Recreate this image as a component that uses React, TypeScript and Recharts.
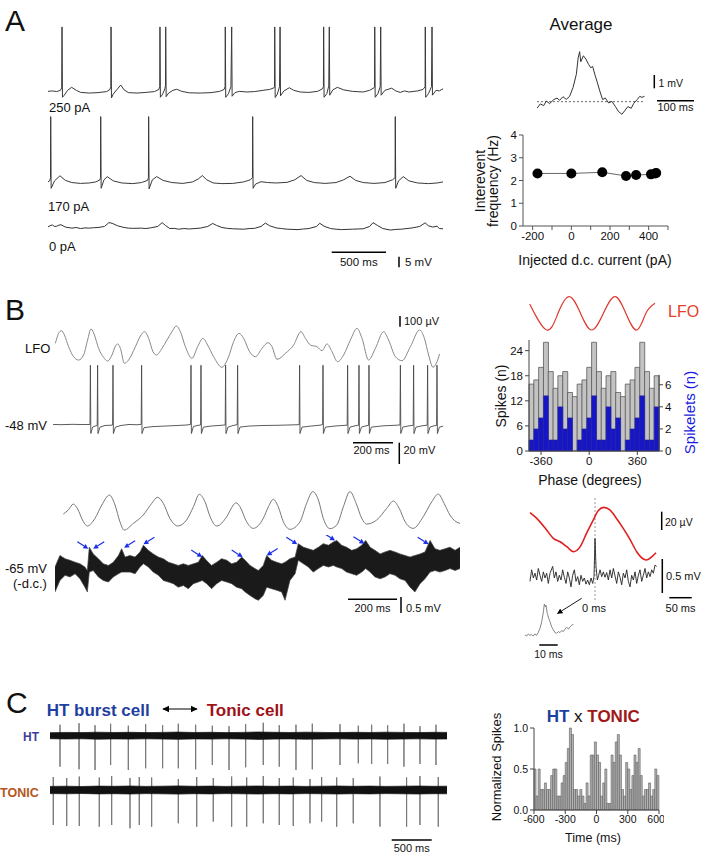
import React from "react";
import {
  LineChart, Line, AreaChart, Area, BarChart, Bar, ScatterChart, Scatter,
  XAxis, YAxis, ReferenceLine,
} from "recharts";

const FONT = "'Liberation Sans', Arial, Helvetica, sans-serif";
const NO_MARGIN = { top: 0, right: 0, bottom: 0, left: 0 };

type Pt = [number, number];

// ---------- A: whole-cell traces (t in ms, v in mV from baseline)
const trace250pA: Pt[] = [
  [0, 0.3], [40, 0.5], [80, 0.2], [115, 0.8], [126, 2], [129, 30.7], [133, -2.5], [150, -1.5], [180, 0.8], [218, 2.2],
  [260, 0.8], [300, -0.2], [380, -0.5], [460, -0.3], [540, 0.2], [570, 1.2], [578, 2.5], [580, 30.7], [584, -2.8], [600, -1],
  [640, 1.5], [669, 3.3], [700, 1], [740, -0.3], [820, -0.5], [900, -0.2], [980, 0.2], [1020, 1.2], [1028, 2.5], [1030, 30.7],
  [1034, -2.5], [1055, -1], [1075, 1.5], [1081, 3], [1083, 30.7], [1087, -2.2], [1110, -0.5], [1150, 0.8], [1184, 1.3], [1230, 0.3],
  [1300, -0.4], [1400, -0.5], [1500, -0.3], [1580, 0.3], [1620, 1.2], [1629, 2.5], [1631, 30.7], [1635, -2.5], [1660, -0.8], [1683, 2.5],
  [1690, 30.7], [1694, -2], [1720, -0.3], [1760, 0.3], [1830, 0], [1900, 0.2], [1980, 0.8], [2040, 1.2], [2080, 2], [2084, 2.5],
  [2086, 30.7], [2090, -2.6], [2110, -1], [2130, 2.5], [2135, 30.7], [2139, -1.8], [2170, 0.5], [2220, 2], [2260, 0.8], [2320, 0],
  [2400, -0.2], [2480, 0.3], [2525, 1.5], [2534, 2.5], [2536, 30.7], [2540, -2.5], [2565, -0.8], [2583, 2.8], [2588, 30.7], [2592, -1.5],
  [2620, 1], [2662, 2.2], [2720, 1], [2800, 0.3], [2900, 0], [2960, 0.8], [3000, 2], [3004, 2.5], [3006, 30.7], [3010, -2.5],
  [3035, -0.8], [3056, 2.5], [3061, 30.7], [3065, -1.5], [3100, 0.8], [3162, 1.8], [3200, 0.5], [3240, -0.2], [3280, 0.5], [3320, 0],
  [3400, 0.5], [3450, 1.2], [3469, 2.5], [3471, 30.7], [3475, -2.5], [3500, -0.8], [3528, 2.5], [3533, 30.7], [3537, -1.5], [3570, 0.8],
  [3600, 0.5], [3634, 1.5],
];

const trace170pA: Pt[] = [
  [0, 0.5], [15, 1], [23, 2.5], [25, 31.3], [29, -2.5], [60, 1], [110, 3.4], [160, 1.2], [220, 0.2], [300, -0.2],
  [380, 0], [440, 0.5], [478, 1.5], [483, 2.5], [485, 31.3], [489, -2.5], [515, 1.5], [545, 3], [600, 1], [680, 0],
  [780, -0.3], [860, 0.2], [915, 1.2], [924, 2.5], [926, 31.3], [930, -2.8], [960, 1.5], [1000, 3], [1060, 1.2], [1140, 0.2],
  [1240, -0.2], [1330, 0.5], [1385, 2], [1420, 3.5], [1460, 1.5], [1520, 0], [1600, -0.3], [1700, -0.2], [1800, 0.5], [1860, 1.5],
  [1881, 2.5], [1883, 31.3], [1887, -2.5], [1910, -0.5], [1960, 0.6], [2020, 0.2], [2100, 0], [2200, 0.3], [2270, 1.5], [2328, 3.5],
  [2380, 1.2], [2450, 0.2], [2550, -0.2], [2650, 0.2], [2720, 1.5], [2778, 3.2], [2830, 1.2], [2900, 0.2], [3000, -0.2], [3100, 0.2],
  [3170, 1.5], [3193, 2.5], [3195, 31.3], [3199, -2.5], [3225, 1], [3269, 3], [3320, 1], [3400, 0], [3500, -0.3], [3580, 0],
  [3634, 0.5],
];

const trace0pA: Pt[] = [
  [0, 0.3], [20, 0.9], [40, 1.2], [60, 0.5], [80, 0.6], [100, 1.1], [120, 1.3], [160, 0.2], [220, -0.3], [260, 0],
  [300, -0.5], [340, -0.2], [380, -0.3], [420, -0.1], [460, 0], [520, 0.5], [560, 2.3], [590, 2.0], [640, 0.8], [700, 0],
  [740, -0.3], [780, -0.4], [860, -0.3], [900, -0.5], [940, -0.2], [1010, 0.5], [1050, 2.3], [1080, 1], [1120, -0.5], [1160, -0.4],
  [1200, -0.8], [1250, -0.5], [1300, -0.7], [1400, -0.3], [1470, 0.5], [1515, 1.9], [1550, 1], [1600, 0], [1650, -0.4], [1700, -0.6],
  [1800, -0.8], [1850, -0.5], [1900, -0.4], [1960, 0.5], [2000, 2.1], [2040, 0.8], [2100, -0.2], [2150, -0.5], [2200, -0.8], [2300, -1],
  [2350, -0.7], [2400, -0.5], [2470, 0.5], [2500, 2.0], [2540, 0.6], [2600, -0.5], [2650, -0.8], [2700, -1], [2800, -0.8], [2900, -0.6],
  [2960, 0.5], [2990, 2.3], [3030, 1], [3080, -0.5], [3150, -1.2], [3200, -0.9], [3250, -0.8], [3350, -0.2], [3420, 0.5], [3470, 2.2],
  [3500, 0.8], [3540, 0.2], [3580, 0.6], [3600, -0.5], [3634, -0.6],
];

const averageTrace: Pt[] = [
  [0, -0.5], [9, -0.17], [18, -0.3], [25, 0.05], [34, -0.15], [45, 0.15], [54, 0.27], [61, 0.1], [70, 0.37], [79, 0.17],
  [88, 0.4], [97, 1.05], [106, 2.05], [111, 3.3], [115, 3.76], [118, 3.0], [125, 3.45], [132, 3.2], [139, 2.8], [145, 2.55],
  [150, 2.65], [157, 1.95], [163, 1.4], [171, 0.65], [177, 0.15], [184, 0.28], [193, -0.1], [202, 0.02], [211, -0.35], [220, -0.75],
  [229, -0.95], [238, -0.63], [245, -0.37], [254, -0.5], [261, -0.12], [270, 0.15], [277, 0.4], [283, 0.32], [290, 0.4],
];

// interevent frequency vs injected current
const injectedCurrent = [-175, 0, 160, 283, 335, 412, 434, 439];
const intereventFreq = [2.31, 2.31, 2.36, 2.2, 2.24, 2.27, 2.31, 2.33];

// ---------- B: LFO and intracellular traces
const lfoTop: Pt[] = [
  [12, 156], [28, 249], [42, 274], [57, 234], [78, 124], [103, 31], [128, 0], [153, 47], [173, 187], [190, 290],
  [207, 234], [228, 109], [253, 25], [273, -9], [295, 47], [312, 131], [323, 150], [337, 109], [357, -31], [378, 0],
  [412, 124], [437, 224], [458, 265], [478, 203], [500, 78], [517, 47], [545, 109], [570, 187], [595, 265], [617, 318],
  [637, 265], [662, 124], [695, 16], [723, 124], [750, 203], [773, 140], [803, 31], [845, -68], [878, 31], [903, 171],
  [930, 249], [953, 203], [983, 78], [1012, 31], [1045, 109], [1075, 162], [1095, 124], [1120, 6], [1162, 62], [1203, 140],
  [1240, 265], [1262, 203], [1287, 140], [1320, 124], [1345, 87], [1370, 150], [1395, 78], [1423, -16], [1453, 47], [1487, 187],
  [1520, 296], [1545, 203], [1578, 0], [1612, 109], [1653, 265], [1678, 187], [1712, 31], [1745, -6], [1787, 124], [1833, 280],
  [1857, 203], [1878, 47], [1900, -68], [1920, -16], [1933, 56],
];

const traceMinus48: Pt[] = [
  [0, 0.5], [40, 0.3], [100, 0.6], [150, 0.4], [185, 0.5], [187, 56], [189, -8], [198, -2], [210, -1], [221, -0.5],
  [223, 56], [225, -8], [235, -2], [260, -0.5], [290, -0.2], [298, 0], [300, 56], [302, -8], [312, -2], [340, -0.5],
  [380, 0.5], [420, 0.2], [441, 0.6], [443, 56], [445, -8], [455, -2.5], [500, -1.5], [560, -1], [620, -0.5], [670, 0],
  [688, 0.5], [690, 56], [692, -8], [702, -1.5], [720, -0.5], [738, 0], [740, 56], [742, -8], [752, -2], [790, -1],
  [840, -0.3], [861, 0], [863, 56], [865, -8], [875, -2], [900, -0.5], [921, 0.3], [923, 56], [925, -8], [935, -2],
  [980, -1], [1050, -0.5], [1120, -0.3], [1180, 0], [1231, 0.3], [1233, 56], [1235, -8], [1245, -2], [1290, -1], [1330, -0.3],
  [1348, 0.3], [1350, 56], [1352, -8], [1362, -2], [1420, -0.8], [1471, -0.2], [1473, 56], [1475, -8], [1485, -2], [1510, -0.8],
  [1528, -0.2], [1530, 56], [1532, -8], [1542, -2], [1565, -0.8], [1578, -0.3], [1580, 56], [1582, -8], [1592, -2], [1650, -0.8],
  [1710, -0.3], [1735, 0], [1737, 56], [1739, -8], [1749, -2], [1780, -0.8], [1801, -0.3], [1803, 56], [1805, -8], [1815, -2],
  [1850, -0.6], [1871, -0.2], [1873, 56], [1875, -8], [1885, -2], [1905, -0.8], [1918, -0.3], [1920, 56], [1922, -8], [1932, -2],
  [1953, -1],
];

const lfoLow: Pt[] = [
  [34, 131], [54, 168], [75, 224], [91, 184], [116, 59], [132, 19], [163, 90], [191, 215], [222, 308], [245, 215],
  [265, 59], [282, -19], [320, 44], [360, 121], [395, 231], [418, 287], [442, 231], [469, 90], [501, 19], [537, 75],
  [565, 199], [589, 315], [612, 246], [633, 106], [660, 19], [701, 106], [728, 215], [739, 236], [755, 199], [782, 59],
  [809, -3], [850, 90], [871, 199], [891, 268], [911, 199], [932, 59], [959, -12], [1000, 59], [1027, 231], [1052, 340],
  [1075, 262], [1095, 90], [1122, -6], [1150, 28], [1177, 199], [1204, 340], [1229, 231], [1252, 90], [1272, 37], [1313, 75],
  [1354, 184], [1381, 252], [1405, 184], [1429, 59], [1462, -3], [1503, 106], [1538, 246], [1564, 318], [1588, 231], [1612, 121],
  [1637, 59], [1653, 44],
];

// -65 mV (d.c.) trace: min / max envelope of the noisy record, mV
const noisyTimes = [
  0, 20, 41, 61, 82, 102, 122, 132, 140, 156, 177, 197, 218, 238, 259, 272, 286, 306, 327, 347,
  361, 381, 401, 422, 442, 463, 483, 503, 524, 544, 565, 585, 601, 619, 639, 660, 680, 701, 721, 741,
  762, 776, 796, 816, 830, 850, 864, 884, 905, 925, 939, 959, 980, 993, 1014, 1034, 1054, 1075, 1095, 1116,
  1136, 1150, 1170, 1190, 1211, 1231, 1252, 1268, 1286, 1306, 1327, 1347, 1367, 1388, 1408, 1429, 1449, 1469, 1490, 1510,
  1531, 1551, 1571, 1592, 1612, 1633, 1653,
];
const noisyLow = [
  -0.58, -0.22, -0.06, -0.11, -0.01, -0.17, -0.43, -0.58, 0.04, 0.09, -0.11, -0.22, -0.27, -0.11, -0.01, 0.04, 0.04, 0.04, -0.01, 0.2,
  0.3, 0.2, 0.04, -0.06, -0.22, -0.27, -0.32, -0.43, -0.38, -0.48, -0.32, -0.27, -0.22, -0.32, -0.48, -0.32, -0.22, -0.27, -0.32, -0.43,
  -0.48, -0.58, -0.69, -0.79, -0.84, -0.69, -0.43, -0.48, -0.53, -0.58, -0.84, -0.22, -0.01, 0.41, 0.3, 0.2, 0.04, 0.15, 0.25, 0.2,
  0.25, 0.2, 0.15, 0.04, -0.01, -0.06, 0.04, 0.15, 0.04, -0.11, -0.17, -0.11, -0.01, -0.06, -0.17, -0.22, -0.43, -0.58, -0.32, -0.17,
  0.04, 0.09, 0.04, 0.09, 0.15, 0.09, 0.15,
];
const noisyHigh = [
  0.2, 0.56, 0.46, 0.41, 0.35, 0.3, 0.2, 0.09, 0.82, 0.61, 0.46, 0.3, 0.25, 0.35, 0.56, 0.77, 0.51, 0.56, 0.51, 0.67,
  0.88, 0.72, 0.61, 0.51, 0.46, 0.35, 0.3, 0.25, 0.3, 0.25, 0.3, 0.35, 0.56, 0.4, 0.25, 0.35, 0.46, 0.41, 0.3, 0.35,
  0.51, 0.41, 0.25, 0.15, 0.09, 0.25, 0.56, 0.41, 0.35, 0.3, 0.35, 0.46, 0.51, 0.93, 0.82, 0.77, 0.72, 0.82, 0.93, 0.88,
  0.98, 1.03, 0.88, 0.82, 0.72, 0.77, 0.88, 1.03, 0.82, 0.72, 0.61, 0.67, 0.72, 0.67, 0.61, 0.56, 0.51, 0.56, 0.61, 0.67,
  1.03, 0.77, 0.72, 0.77, 0.82, 0.72, 0.82,
];

// spikelets marked by arrows: time (ms), peak (mV), side the arrow comes from
const spikeletTimes = [136, 156, 282, 361, 601, 766, 864, 989, 1143, 1263, 1525];
const spikeletPeaks = [0.77, 0.77, 0.8, 0.91, 0.51, 0.51, 0.56, 0.91, 1.03, 0.93, 0.91];
const spikeletSide = ["left", "right", "right", "right", "left", "left", "right", "left", "left", "left", "left"];

// phase histogram (double plotted), bins of 36 degrees
const phaseBins = [
  -432, -396, -360, -324, -288, -252, -216, -180, -144, -108, -72, -36, 0, 36, 72, 108, 144, 180,
  216, 252, 288, 324, 360, 396, 432, 468, 504,
];
const spikesPerBin = [16, 17, 20, 26, 19, 15, 18, 19, 14, 13, 16, 17, 20, 26, 19, 15, 18, 19, 14, 13, 16, 17, 20, 26, 19, 15, 18];
const spikeletsPerBin = [1, 2, 3, 5, 1, 1, 4, 2, 3, 0, 1, 2, 3, 5, 1, 1, 4, 2, 3, 0, 1, 2, 3, 5, 1, 1, 4];

// idealised LFO cycle above the histogram (degrees, normalised amplitude)
const lfoCycle: Pt[] = [
  [-445, 0.56], [-318, -1], [-233, 0], [-149, 1], [-65, 0], [19, -1], [106, 0], [193, 1], [274, 0], [356, -1], [424, 0], [492, 0.6],
];

// spike-triggered averages (t in ms from spikelet)
const lfoTriggered: Pt[] = [
  [-145, 35.3], [-130, 29.1], [-108, 16.4], [-93, 7.3], [-78, 3.6], [-63, -1.8], [-48, -7.3], [-33, -1.8], [-19, 12.8], [-4, 27.3],
  [7, 37.5], [20, 41.2], [33, 38.3], [48, 29.1], [63, 18.2], [78, 6.2], [93, -7.3], [108, -15.3], [115, -16.4], [127, -12.8], [136, -8.4],
];
const vmTriggered: Pt[] = [
  [-145.1, -0.05], [-141.4, 0.12], [-137.6, 0], [-133.9, 0.07], [-130.2, -0.03], [-126.5, 0.14], [-122.8, 0.04], [-119, -0.05],
  [-115.3, 0.09], [-111.6, 0], [-107.9, 0.07], [-104.2, -0.08], [-100.4, 0.07], [-94.5, 0.17], [-90.8, 0], [-87.1, 0.09],
  [-83.3, -0.05], [-79.6, 0.04], [-75.9, -0.03], [-72.2, 0.12], [-68.5, 0.01], [-64.7, -0.08], [-61, 0.09], [-57.3, 0],
  [-53.6, -0.13], [-49.9, 0.04], [-46.1, 0.12], [-42.4, -0.05], [-38.7, 0.02], [-35, -0.1], [-31.3, 0.04], [-27.5, -0.05],
  [-23.8, 0], [-20.1, -0.09], [-16.4, -0.03], [-12.6, -0.1], [-8.9, 0], [-5.2, -0.08], [-2.2, 0.02], [0, 0.58],
  [2.2, 0.17], [5.2, -0.03], [8.2, 0.04], [11.2, 0.12], [14.9, 0.02], [18.6, 0.09], [22.3, 0.01], [26, 0.08],
  [29.8, -0.03], [33.5, 0.12], [37.2, 0], [40.9, 0.14], [44.6, 0.03], [48.4, -0.08], [52.1, 0.09], [55.8, 0.01],
  [59.5, -0.1], [63.2, 0.07], [67, 0], [70.7, 0.12], [74.4, -0.05], [78.1, -0.13], [81.8, 0.04], [85.6, -0.03],
  [89.3, 0.09], [93, -0.08], [96.7, 0.04], [100.4, 0.12], [104.2, -0.05], [107.9, 0.04], [111.6, 0.14], [115.3, 0],
  [119, 0.09], [122.8, 0.02], [126.5, 0.12], [130.2, 0.07], [133.9, 0.19], [137.6, 0.17],
];
const spikeletZoom: Pt[] = [
  [0, 0], [0.9, -0.015], [1.8, 0.015], [2.7, -0.005], [3.6, 0.005], [4.5, -0.015], [5.4, 0.015], [6.3, -0.005],
  [7.2, 0.035], [8.2, 0.1], [9.1, 0.195], [10, 0.34], [10.5, 0.455], [11.1, 0.415], [11.4, 0.44], [12.1, 0.32],
  [12.9, 0.245], [13.6, 0.195], [14.5, 0.12], [15.4, 0.075], [16.3, 0.035], [17.2, 0.025], [18.1, 0.05], [19, 0.035],
  [19.9, 0.065], [20.8, 0.05], [21.7, 0.085], [22.6, 0.115], [23.6, 0.085], [24.5, 0.12], [25.4, 0.145], [26.3, 0.155],
];

// ---------- C: extracellular units (t in ms, v in µV)
const htSpikeTimes = [125, 363, 563, 758, 979, 1196, 1408, 1604, 1821, 2029, 2238, 2446, 2666, 2866, 3075, 3279, 3625, 3854, 4021, 4221, 4425, 4625, 4825];
const htSpikeUp = [110, 125, 105, 120, 100, 115, 105, 120, 110, 100, 95, 115, 130, 105, 110, 120, 115, 100, 110, 105, 120, 95, 110];
const htSpikeDown = [-310, -336, -343, -293, -343, -326, -326, -326, -336, -293, -343, -316, -293, -310, -343, -336, -293, -276, -283, -283, -310, -283, -293];
const htNoise: Pt[] = [
  [0, 30], [200, 33], [400, 31], [600, 35], [800, 32], [1000, 34], [1200, 31], [1400, 33], [1600, 36], [1800, 32],
  [2000, 34], [2200, 31], [2400, 33], [2600, 37], [2800, 34], [3000, 32], [3200, 35], [3400, 33], [3600, 31], [3800, 34],
  [4000, 32], [4200, 35], [4400, 33], [4600, 31], [4800, 34], [4963, 33],
];
const tonicSpikeTimes = [41, 209, 366, 616, 771, 1000, 1116, 1271, 1604, 1834, 2041, 2271, 2459, 2666, 2866, 3041, 3250, 3396, 3584, 3791, 4125, 4458, 4625, 4854];
const tonicSpikeUp = [130, 120, 135, 125, 140, 120, 130, 125, 110, 130, 120, 135, 125, 140, 120, 125, 110, 130, 125, 120, 135, 125, 140, 130];
const tonicSpikeDown = [-350, -360, -360, -367, -350, -383, -350, -367, -333, -367, -317, -367, -367, -333, -350, -360, -333, -317, -367, -333, -367, -367, -350, -367];
const tonicNoise: Pt[] = [
  [0, 36], [200, 38], [400, 35], [600, 39], [800, 37], [1000, 40], [1200, 36], [1400, 38], [1600, 41], [1800, 37],
  [2000, 39], [2200, 36], [2400, 38], [2600, 40], [2800, 37], [3000, 39], [3200, 36], [3400, 38], [3600, 40], [3800, 37],
  [4000, 39], [4200, 36], [4400, 38], [4600, 40], [4800, 37], [4963, 38],
];

// HT x TONIC cross-correlogram, 20 ms bins
const ccgLags = [
  -590, -570, -550, -530, -510, -490, -470, -450, -430, -410, -390, -370, -350, -330, -310, -290, -270, -250, -230, -210,
  -190, -170, -150, -130, -110, -90, -70, -50, -30, -10, 10, 30, 50, 70, 90, 110, 130, 150, 170, 190,
  210, 230, 250, 270, 290, 310, 330, 350, 370, 390, 410, 430, 450, 470, 490, 510, 530, 550, 570, 590,
];
const ccgValues = [
  0.5, 0.17, 0.5, 0.25, 0.25, 0.33, 0.25, 0.25, 0.42, 0.5,
  0.5, 0.17, 0.17, 0.33, 0.42, 0.58, 0.75, 1.0, 0.92, 0.25,
  0.25, 0.17, 0.25, 0.17, 0.08, 0.33, 0.17, 0.67, 0.67, 0.83,
  0.67, 0.58, 0.17, 0.33, 0.5, 0.08, 0.08, 0.67, 0.58, 0.83,
  0.92, 0.67, 0.25, 0.17, 0.58, 0.5, 0.25, 0.42, 0.67, 0.58,
  0.75, 0.42, 0.17, 0.25, 0.25, 0.33, 0.17, 0.25, 0.5, 0.42,
];

const tickStyle = { fontSize: 11, fill: "#111", fontFamily: FONT };

type Box = [number, number, number, number];

function Trace({ pts, box, xDomain, yDomain, color = "#222", width = 1, curve = "linear", children }: any) {
  const rows = pts.map(([t, v]: Pt) => ({ t, v }));
  return (
    <div style={{ position: "absolute", left: box[0], top: box[1] }}>
      <LineChart width={box[2]} height={box[3]} data={rows} margin={NO_MARGIN}>
        <XAxis dataKey="t" type="number" domain={xDomain} hide allowDataOverflow />
        <YAxis type="number" domain={yDomain} hide allowDataOverflow />
        {children}
        <Line dataKey="v" type={curve} stroke={color} strokeWidth={width} dot={false} activeDot={false} isAnimationActive={false} />
      </LineChart>
    </div>
  );
}

function Band({ rows, box, xDomain, yDomain, color = "#111", edge = "#111" }: any) {
  return (
    <div style={{ position: "absolute", left: box[0], top: box[1] }}>
      <AreaChart width={box[2]} height={box[3]} data={rows} margin={NO_MARGIN}>
        <XAxis dataKey="t" type="number" domain={xDomain} hide allowDataOverflow />
        <YAxis type="number" domain={yDomain} hide allowDataOverflow />
        <Area dataKey="band" type="linear" stroke={edge} strokeWidth={0.7} fill={color} fillOpacity={1} dot={false} activeDot={false} isAnimationActive={false} />
      </AreaChart>
    </div>
  );
}

function spikeRows(times: number[], up: number[], down: number[]): Pt[] {
  return times.flatMap((t, i) => [[t, 0], [t, up[i]], [t, down[i]], [t, 0]] as Pt[]);
}

function SpikeletArrow(props: any) {
  const { cx, cy, payload } = props;
  const s = payload.side === "left" ? -1 : 1;
  const tx = cx + s * 11;
  const ty = cy - 7;
  const len = Math.hypot(cx - tx, cy - ty);
  const ux = (cx - tx) / len;
  const uy = (cy - ty) / len;
  const bx = cx - ux * 5;
  const by = cy - uy * 5;
  const px = -uy * 2.6;
  const py = ux * 2.6;
  return (
    <g>
      <line x1={tx} y1={ty} x2={bx} y2={by} stroke="#1a2ee8" strokeWidth={1.2} />
      <polygon points={`${cx},${cy} ${bx + px},${by + py} ${bx - px},${by - py}`} fill="#1a2ee8" />
    </g>
  );
}

function Txt({ x, y, size = 12, anchor = "start", color = "#111", weight = "normal", rotate = false, children }: any) {
  if (rotate) {
    return (
      <text transform={`translate(${x},${y}) rotate(-90)`} fontSize={size} textAnchor="middle" fill={color} fontWeight={weight}>
        {children}
      </text>
    );
  }
  return (
    <text x={x} y={y} fontSize={size} textAnchor={anchor} fill={color} fontWeight={weight}>
      {children}
    </text>
  );
}

function ScaleLine({ x1, y1, x2, y2 }: any) {
  return <line x1={x1} y1={y1} x2={x2} y2={y2} stroke="#000" strokeWidth={1.5} />;
}

export default function App() {
  const ivRows = injectedCurrent.map((c, i) => ({ current: c, freq: intereventFreq[i] }));
  const phaseRows = phaseBins.map((p, i) => ({ phase: p, spikes: spikesPerBin[i], spikelets: spikeletsPerBin[i] }));
  const ccgRows = ccgLags.map((l, i) => ({ lag: l, norm: ccgValues[i] }));
  const noisyRows = noisyTimes.map((t, i) => ({ t, band: [noisyLow[i], noisyHigh[i]] }));
  const arrowRows = spikeletTimes.map((t, i) => ({ t, v: spikeletPeaks[i], side: spikeletSide[i] }));
  const htBand = htNoise.map(([t, h]) => ({ t, band: [-h, h] }));
  const tonicBand = tonicNoise.map(([t, h]) => ({ t, band: [-h, h] }));

  const noisyBox: Box = [55, 534.6, 405, 76.8];

  return (
    <div style={{ position: "absolute", left: 0, top: 0, width: 702, height: 853, background: "#fff", overflow: "hidden", fontFamily: FONT }}>
      {/* ---------- A ---------- */}
      <Trace pts={trace250pA} box={[48, 20, 395, 82]} xDomain={[0, 3634]} yDomain={[-4.72, 33.96]} color="#3a3a3a" />
      <Trace pts={trace170pA} box={[48, 110, 395, 82]} xDomain={[0, 3634]} yDomain={[-4.25, 34.4]} color="#3a3a3a" />
      <Trace pts={trace0pA} box={[48, 215, 395, 20]} xDomain={[0, 3634]} yDomain={[-3.54, 5.9]} color="#333" />
      <Trace pts={averageTrace} box={[536.7, 45, 108.3, 73]} xDomain={[0, 292]} yDomain={[-1.23, 4.26]} color="#333">
        <ReferenceLine y={0} stroke="#444" strokeWidth={0.8} strokeDasharray="2 2" />
      </Trace>

      <div style={{ position: "absolute", left: 460, top: 125 }}>
        <LineChart width={218} height={131} data={ivRows} margin={{ top: 10, right: 10, bottom: 0, left: 0 }}>
          <XAxis
            dataKey="current" type="number" domain={[-250, 500]} ticks={[-200, -100, 0, 100, 200, 300, 400, 500]}
            tickFormatter={(v: number) => (v % 200 === 0 ? String(v) : "")} height={30} tick={{ ...tickStyle, fontSize: 11.5 }}
            stroke="#555" tickSize={4} allowDataOverflow
          />
          <YAxis type="number" domain={[0, 4]} ticks={[0, 1, 2, 3, 4]} width={63} tick={{ ...tickStyle, fontSize: 11.5 }} stroke="#555" tickSize={4} />
          <Line dataKey="freq" stroke="#666" strokeWidth={1} dot={{ r: 5, fill: "#000", stroke: "#000", strokeWidth: 0 }} activeDot={false} isAnimationActive={false} />
        </LineChart>
      </div>

      {/* ---------- B ---------- */}
      <Trace pts={lfoTop} box={[52.7, 320, 390.6, 52]} xDomain={[0, 1953]} yDomain={[-112, 374]} color="#888" curve="monotone" />
      <Trace pts={traceMinus48} box={[52.7, 360, 390.6, 78]} xDomain={[0, 1953]} yDomain={[-12.2, 60.9]} color="#4a4a4a" width={0.9} />
      <Trace pts={lfoLow} box={[55, 485, 405, 50]} xDomain={[0, 1653]} yDomain={[-65, 402]} color="#777" curve="monotone" />
      <Band rows={noisyRows} box={noisyBox} xDomain={[0, 1653]} yDomain={[-1.2, 1.2]} color="#1a1a1a" edge="#444" />
      <div style={{ position: "absolute", left: noisyBox[0], top: noisyBox[1] }}>
        <ScatterChart width={noisyBox[2]} height={noisyBox[3]} margin={NO_MARGIN}>
          <XAxis dataKey="t" type="number" domain={[0, 1653]} hide allowDataOverflow />
          <YAxis dataKey="v" type="number" domain={[-1.2, 1.2]} hide allowDataOverflow />
          <Scatter data={arrowRows} shape={SpikeletArrow} isAnimationActive={false} />
        </ScatterChart>
      </div>

      <Trace pts={lfoCycle} box={[529, 293, 130, 41]} xDomain={[-450, 522]} yDomain={[-1.24, 1.22]} color="#e03a30" width={1.2} curve="natural" />
      <div style={{ position: "absolute", left: 480, top: 330 }}>
        <BarChart width={219} height={146} data={phaseRows} margin={{ top: 10, right: 0, bottom: 0, left: 0 }} barCategoryGap={0} barGap={0}>
          <XAxis xAxisId="a" dataKey="phase" type="number" domain={[-450, 522]} ticks={[-360, 0, 360]} height={25} tick={{ ...tickStyle, fontSize: 11.5 }} stroke="#444" tickSize={4} />
          <XAxis xAxisId="b" dataKey="phase" type="number" domain={[-450, 522]} hide />
          <YAxis yAxisId="s" type="number" domain={[0, 26.55]} ticks={[0, 6, 12, 18, 24]} width={49} tick={{ ...tickStyle, fontSize: 11.5 }} stroke="#444" tickSize={4} />
          <YAxis yAxisId="k" orientation="right" type="number" domain={[0, 10.05]} ticks={[0, 2, 4, 6]} width={40} tick={{ ...tickStyle, fontSize: 11.5 }} stroke="#444" tickSize={4} axisLine={false} />
          <Bar xAxisId="a" yAxisId="s" dataKey="spikes" fill="#c3c3c3" stroke="#5a5a5a" strokeWidth={0.8} isAnimationActive={false} />
          <Bar xAxisId="b" yAxisId="k" dataKey="spikelets" fill="#1616c6" stroke="#2c2c94" strokeWidth={0.5} isAnimationActive={false} />
          <ReferenceLine xAxisId="a" yAxisId="k" segment={[{ x: 522, y: 0 }, { x: 522, y: 6.9 }]} stroke="#444" />
        </BarChart>
      </div>

      <Trace pts={lfoTriggered} box={[526, 497, 134, 103]} xDomain={[-154, 145]} yDomain={[-60.1, 52.5]} color="#e02020" width={1.6} curve="monotone">
        <ReferenceLine x={0} stroke="#999" strokeWidth={1} strokeDasharray="2 2" />
      </Trace>
      <Trace pts={vmTriggered} box={[526, 535, 134, 77]} xDomain={[-154, 145]} yDomain={[-0.5, 0.632]} color="#222" width={0.9} />
      <Trace pts={spikeletZoom} box={[522, 598, 54, 42]} xDomain={[-1.6, 27.7]} yDomain={[-0.074, 0.544]} color="#777" width={0.9} />

      {/* ---------- C ---------- */}
      <Trace pts={spikeRows(htSpikeTimes, htSpikeUp, htSpikeDown)} box={[50, 718, 397, 54]} xDomain={[0, 4963]} yDomain={[-363, 177]} color="#777" width={1} />
      <Band rows={htBand} box={[50, 718, 397, 54]} xDomain={[0, 4963]} yDomain={[-363, 177]} />
      <Trace pts={spikeRows(tonicSpikeTimes, tonicSpikeUp, tonicSpikeDown)} box={[50, 772, 397, 60]} xDomain={[0, 4963]} yDomain={[-420, 180]} color="#777" width={1} />
      <Band rows={tonicBand} box={[50, 772, 397, 60]} xDomain={[0, 4963]} yDomain={[-420, 180]} />

      <div style={{ position: "absolute", left: 480, top: 718 }}>
        <BarChart width={184} height={117} data={ccgRows} margin={{ top: 10, right: 5, bottom: 0, left: 0 }} barCategoryGap={0}>
          <XAxis dataKey="lag" type="number" domain={[-600, 600]} ticks={[-600, -300, 0, 300, 600]} height={25} tick={{ ...tickStyle, fontSize: 10.5 }} stroke="#444" tickSize={4} />
          <YAxis type="number" domain={[0, 1]} ticks={[0, 0.5, 1]} tickFormatter={(v: number) => v.toFixed(1)} width={54} tick={{ ...tickStyle, fontSize: 10.5 }} stroke="#444" tickSize={4} />
          <Bar dataKey="norm" fill="#b3b3b3" stroke="#5c5c5c" strokeWidth={0.6} isAnimationActive={false} />
        </BarChart>
      </div>

      {/* ---------- labels, scale bars ---------- */}
      <svg width={702} height={853} style={{ position: "absolute", left: 0, top: 0, pointerEvents: "none" }} fontFamily={FONT}>
        <defs>
          <marker id="head" viewBox="0 0 10 10" refX="9" refY="5" markerWidth="6" markerHeight="6" orient="auto-start-reverse">
            <path d="M0,0 L10,5 L0,10 z" fill="#000" />
          </marker>
        </defs>

        <Txt x={5} y={31} size={30}>A</Txt>
        <Txt x={49} y={112} size={13}>250 pA</Txt>
        <Txt x={48} y={211} size={13}>170 pA</Txt>
        <Txt x={49} y={251} size={13}>0 pA</Txt>
        <ScaleLine x1={331.7} y1={252.3} x2={386} y2={252.3} />
        <Txt x={358.8} y={266} size={11.5} anchor="middle">500 ms</Txt>
        <ScaleLine x1={399} y1={256.7} x2={399} y2={267.3} />
        <Txt x={405} y={266} size={11.5}>5 mV</Txt>

        <Txt x={581} y={29.5} size={17} anchor="middle">Average</Txt>
        <ScaleLine x1={654.3} y1={75} x2={654.3} y2={88.3} />
        <Txt x={658.5} y={87} size={10.5}>1 mV</Txt>
        <ScaleLine x1={657} y1={100.7} x2={694} y2={100.7} />
        <Txt x={675.5} y={110.5} size={11} anchor="middle">100 ms</Txt>
        <Txt x={485} y={181} size={14} rotate>Interevent</Txt>
        <Txt x={498} y={181} size={14} rotate>frequency (Hz)</Txt>
        <Txt x={595} y={265} size={14} anchor="middle">Injected d.c. current (pA)</Txt>

        <Txt x={5} y={320} size={30}>B</Txt>
        <Txt x={25} y={352.7} size={13}>LFO</Txt>
        <ScaleLine x1={400} y1={316} x2={400} y2={326.7} />
        <Txt x={404} y={325} size={11}>100 µV</Txt>
        <Txt x={5} y={430} size={13}>-48 mV</Txt>
        <ScaleLine x1={353} y1={442.7} x2={393} y2={442.7} />
        <Txt x={371.5} y={454} size={11} anchor="middle">200 ms</Txt>
        <ScaleLine x1={399.3} y1={442.7} x2={399.3} y2={464} />
        <Txt x={403.5} y={454} size={11}>20 mV</Txt>
        <Txt x={5} y={573} size={13}>-65 mV</Txt>
        <Txt x={13} y={588} size={13}>(-d.c.)</Txt>
        <ScaleLine x1={348} y1={599.3} x2={397} y2={599.3} />
        <Txt x={372.5} y={612} size={11} anchor="middle">200 ms</Txt>
        <ScaleLine x1={401} y1={597} x2={401} y2={613} />
        <Txt x={406} y={612} size={11}>0.5 mV</Txt>

        <Txt x={668} y={317} size={16} color="#e8402a">LFO</Txt>
        <Txt x={506} y={396} size={14} rotate>Spikes (n)</Txt>
        <Txt x={695} y={412.5} size={15} rotate color="#1a1ae0">Spikelets (n)</Txt>
        <Txt x={590} y={485} size={14} anchor="middle">Phase (degrees)</Txt>

        <ScaleLine x1={661.7} y1={511.7} x2={661.7} y2={530} />
        <Txt x={665} y={526} size={10.5}>20 µV</Txt>
        <ScaleLine x1={662.3} y1={559} x2={662.3} y2={593} />
        <Txt x={666} y={580} size={11}>0.5 mV</Txt>
        <Txt x={594} y={611.5} size={11} anchor="middle">0 ms</Txt>
        <ScaleLine x1={669.3} y1={597.7} x2={691.7} y2={597.7} />
        <Txt x={680.5} y={611.5} size={11} anchor="middle">50 ms</Txt>
        <line x1={581.7} y1={598.3} x2={557.5} y2={613.5} stroke="#000" strokeWidth={0.9} markerEnd="url(#head)" />
        <ScaleLine x1={539.3} y1={645} x2={557.7} y2={645} />
        <Txt x={548.5} y={658} size={10.5} anchor="middle">10 ms</Txt>

        <Txt x={6} y={713} size={30}>C</Txt>
        <Txt x={46.7} y={716} size={17} weight="bold" color="#1f3f9f">HT burst cell</Txt>
        <line x1={163} y1={709} x2={197} y2={709} stroke="#000" strokeWidth={1.2} markerStart="url(#head)" markerEnd="url(#head)" />
        <Txt x={206.7} y={716} size={17} weight="bold" color="#9e1218">Tonic cell</Txt>
        <Txt x={23} y={741} size={12} weight="bold" color="#3d3d9e">HT</Txt>
        <Txt x={0} y={797} size={12.5} weight="bold" color="#b4561e">TONIC</Txt>
        <ScaleLine x1={391.7} y1={840} x2={431.7} y2={840} />
        <Txt x={411.7} y={852} size={11} anchor="middle">500 ms</Txt>

        <text x={546.7} y={721.5} fontSize={17} fontWeight="bold">
          <tspan fill="#1c3fa0">HT</tspan>
          <tspan fill="#111" fontWeight="normal"> x </tspan>
          <tspan fill="#a01818">TONIC</tspan>
        </text>
        <Txt x={501} y={767} size={13} rotate>Normalized Spikes</Txt>
        <Txt x={593} y={842} size={12.5} anchor="middle">Time (ms)</Txt>
      </svg>
    </div>
  );
}
